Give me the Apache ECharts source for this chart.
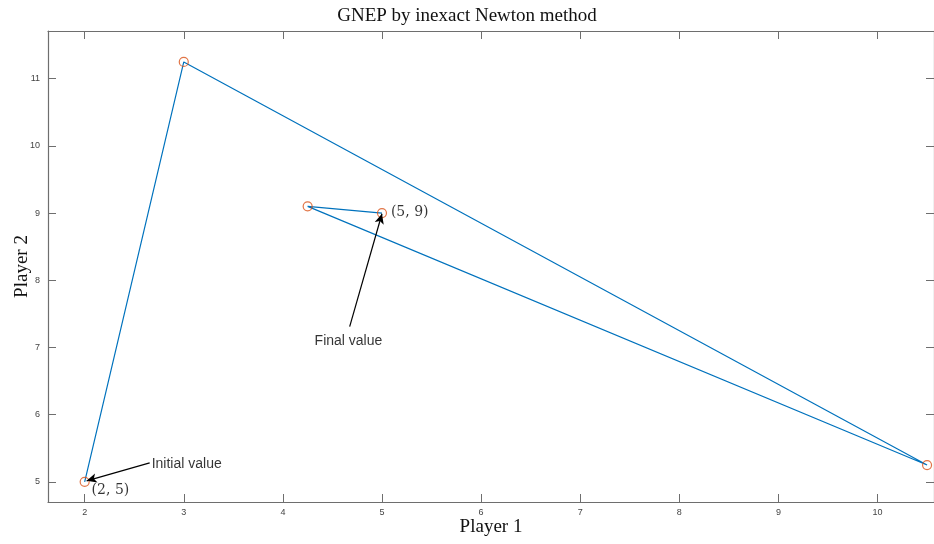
<!DOCTYPE html>
<html>
<head>
<meta charset="utf-8">
<script src="https://cdn.jsdelivr.net/npm/echarts@6/dist/echarts.min.js"></script>
<style>
  html, body { margin: 0; padding: 0; background: #fff; }
  #chart { width: 934px; height: 544px; }
</style>
</head>
<body>
<div id="chart"></div>
<script>
// iterates of the newton run (player 1, player 2)
const player1 = [2, 3, 10.5, 4.25, 5];
const player2 = [5, 11.25, 5.25, 9.1, 9];

const xTicks = [2, 3, 4, 5, 6, 7, 8, 9, 10];
const yTicks = [5, 6, 7, 8, 9, 10, 11];

// annotation texts, anchored in data space
const notes = [
  { text: 'Initial value', at: [2.676, 5.268], font: 'Liberation Sans, Arial, sans-serif' },
  { text: 'Final value', at: [4.32, 7.10], font: 'Liberation Sans, Arial, sans-serif' },
  { text: '(2, 5)', at: [2.07, 4.88], font: 'DejaVu Serif, serif' },
  { text: '(5, 9)', at: [5.09, 9.01], font: 'DejaVu Serif, serif' }
];
// arrows: tail -> head
const arrows = [
  [[2.656, 5.283], [2.02, 5.015]],
  [[4.674, 7.31], [5.0, 8.99]]
];

const axisGray = '#6e6e6e';
const serif = 'Liberation Serif, "Times New Roman", serif';
const sans = 'Liberation Sans, Arial, sans-serif';

const chart = echarts.init(document.getElementById('chart'));

const boxAxis = (extra) => Object.assign({
  type: 'value',
  splitLine: { show: false },
  axisLine: { show: true, onZero: false, lineStyle: { color: axisGray, width: 1.2 } },
  axisTick: { show: true, inside: true, length: 8, lineStyle: { color: axisGray } },
  axisLabel: { show: true, color: '#444', fontSize: 9, fontFamily: sans }
}, extra);

chart.setOption({
  animation: false,
  title: {
    text: 'GNEP by inexact Newton method',
    left: 'center',
    top: 2,
    textStyle: { fontFamily: serif, fontWeight: 'normal', fontSize: 19, color: '#111' }
  },
  grid: { left: 48, top: 31, right: 0, bottom: 42, containLabel: false, outerBoundsMode: 'none' },
  xAxis: [
    boxAxis({
      min: 1.63, max: 10.57, position: 'bottom',
      name: 'Player 1', nameLocation: 'middle', nameGap: 16, nameMoveOverlap: false,
      nameTextStyle: { fontFamily: serif, fontSize: 19, color: '#111' },
      axisTick: { show: true, inside: true, length: 8, customValues: xTicks, lineStyle: { color: axisGray } },
      axisLabel: { show: true, customValues: xTicks, margin: 6, color: '#444', fontSize: 9, fontFamily: sans }
    }),
    boxAxis({
      min: 1.63, max: 10.57, position: 'top',
      axisTick: { show: true, inside: true, length: 8, customValues: xTicks, lineStyle: { color: axisGray } },
      axisLabel: { show: false }
    })
  ],
  yAxis: [
    boxAxis({
      min: 4.70, max: 11.71, position: 'left',
      name: 'Player 2', nameLocation: 'middle', nameGap: 16, nameRotate: 90, nameMoveOverlap: false,
      nameTextStyle: { fontFamily: serif, fontSize: 19, color: '#111' },
      axisTick: { show: true, inside: true, length: 8, customValues: yTicks, lineStyle: { color: axisGray } },
      axisLabel: { show: true, customValues: yTicks, margin: 8, color: '#444', fontSize: 9, fontFamily: sans }
    }),
    boxAxis({
      min: 4.70, max: 11.71, position: 'right',
      axisTick: { show: true, inside: true, length: 8, customValues: yTicks, lineStyle: { color: axisGray } },
      axisLabel: { show: false }
    })
  ],
  series: [
    {
      type: 'line',
      data: player1.map((x, i) => [x, player2[i]]),
      showSymbol: false,
      lineStyle: { color: '#0072BD', width: 1.2 },
      z: 2
    },
    {
      type: 'scatter',
      data: player1.map((x, i) => [x, player2[i]]),
      symbol: 'circle',
      symbolSize: 9,
      itemStyle: { color: 'rgba(0,0,0,0)', borderColor: '#D95319', borderWidth: 1.2 },
      // annotation arrows
      markLine: {
        silent: true,
        symbol: ['none', 'arrow'],
        symbolSize: [7, 10],
        label: { show: false },
        lineStyle: { color: '#000', width: 1.2, type: 'solid' },
        itemStyle: { color: '#000' },
        data: arrows.map(a => [{ coord: a[0] }, { coord: a[1] }])
      },
      z: 3
    },
    {
      type: 'scatter',
      silent: true,
      symbolSize: 0,
      data: notes.map(n => ({
        value: n.at,
        label: {
          show: true,
          position: 'right',
          distance: 0,
          formatter: n.text,
          fontFamily: n.font,
          fontSize: 14,
          color: '#000'
        }
      })),
      z: 4
    }
  ]
});
</script>
</body>
</html>
